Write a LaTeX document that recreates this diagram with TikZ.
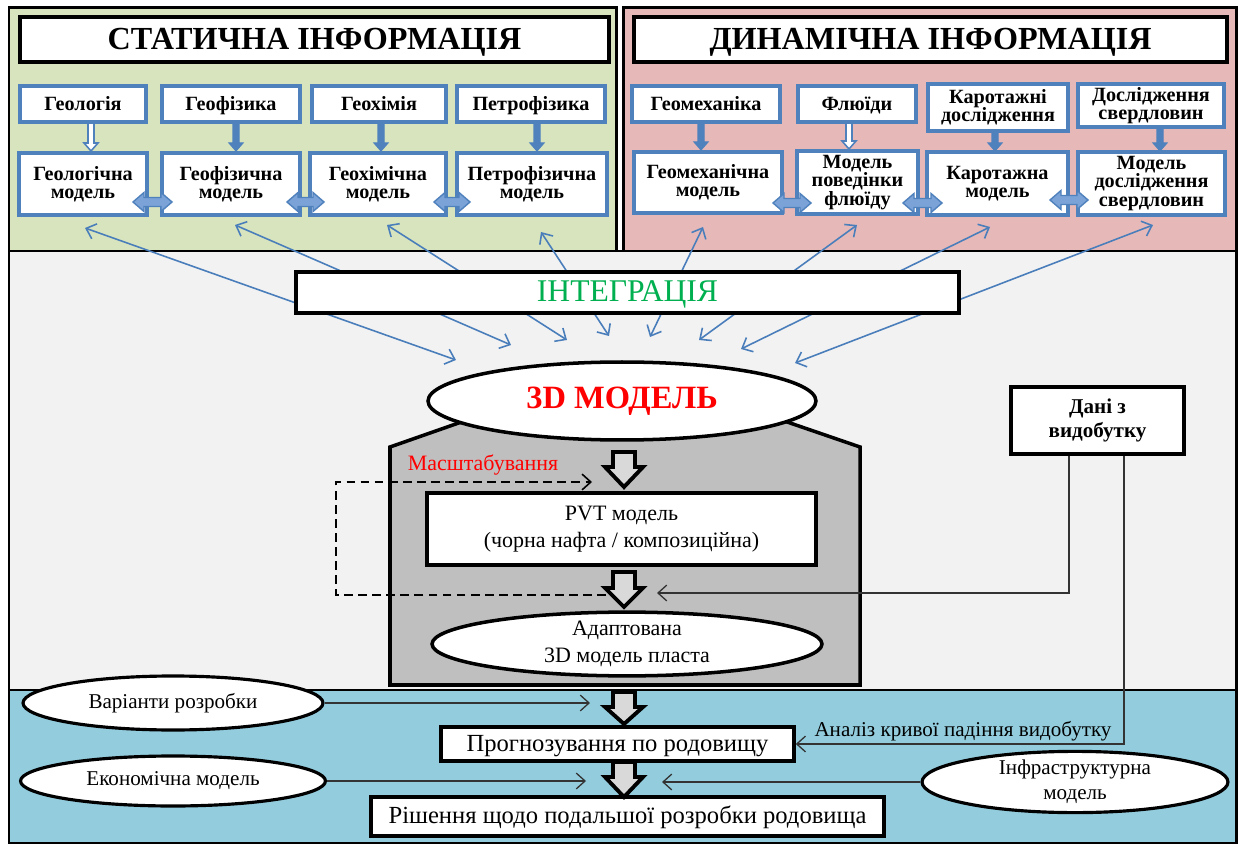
\documentclass[tikz,border=0pt]{standalone}
\usepackage{fontspec}
\setmainfont{Liberation Serif}
\usetikzlibrary{arrows.meta,shapes.geometric}
\definecolor{pgreen}{HTML}{D7E4BD}
\definecolor{pred}{HTML}{E6B9B8}
\definecolor{pgrey}{HTML}{F2F2F2}
\definecolor{pblue}{HTML}{93CDDD}
\definecolor{hgrey}{HTML}{BFBFBF}
\definecolor{agrey}{HTML}{D9D9D9}
\definecolor{bdblue}{HTML}{4F81BD}
\definecolor{lblue}{HTML}{4A7EBB}
\definecolor{dfill}{HTML}{7BA3D8}
\definecolor{tgreen}{HTML}{00B050}
\definecolor{tred}{HTML}{FF0000}
\newcommand\mkbox[7][]{\node[inner sep=0pt, minimum width={(#5-#3)*0.02cm}, minimum height={(#6-#4)*0.02cm}, #1] (#2) at ({(#3+#5)/2},{(#4+#6)/2}) {#7};}
\newcommand\blkarrow[4]{\draw[blockarr] (#1-11,#2) -- (#1+11,#2) -- (#1+11,#3) -- (#1+19,#3) -- (#1,#4) -- (#1-19,#3) -- (#1-11,#3) -- cycle;}
\newcommand\vdarrow[4]{\draw[#4] (#1-3,#2) -- (#1+3,#2) -- (#1+3,#3-8) -- (#1+7,#3-8) -- (#1,#3) -- (#1-7,#3-8) -- (#1-3,#3-8) -- cycle;}
\newcommand\hdarrow[3]{\draw[dblarr] (#1,#3) -- (#1+11,#3-9.5) -- (#1+11,#3-4.5) -- (#2-11,#3-4.5) -- (#2-11,#3-9.5) -- (#2,#3) -- (#2-11,#3+9.5) -- (#2-11,#3+4.5) -- (#1+11,#3+4.5) -- (#1+11,#3+9.5) -- cycle;}
\tikzset{
  panel/.style={draw=black, line width=1.7pt},
  titlebox/.style={text height=13.7pt, text depth=2.7pt, draw=black, fill=white, line width=2.3pt, font=\fontsize{18.3}{20}\selectfont\bfseries},
  sbox/.style={draw=bdblue, fill=white, line width=1.9pt, align=center, font=\fontsize{11.5}{10.5}\selectfont\bfseries},
  sone/.style={text height=8.6pt, text depth=1.7pt},
  mbox/.style={draw=bdblue, fill=white, line width=1.9pt, align=center, font=\fontsize{11.5}{10.5}\selectfont\bfseries},
  vfill/.style={fill=bdblue, draw=bdblue, line width=0.6pt},
  vhollow/.style={fill=white, draw=bdblue, line width=0.9pt},
  dblarr/.style={fill=dfill, draw=bdblue, line width=0.8pt},
  intarr/.style={draw=lblue, line width=0.9pt, {Straight Barb[length=5pt,width=9pt]}-{Straight Barb[length=5pt,width=9pt]}},
  intbox/.style={text height=13pt, text depth=3pt, draw=black, fill=white, line width=2.3pt, text=tgreen, font=\fontsize{18}{20}\selectfont},
  house/.style={draw=black, fill=hgrey, line width=2pt},
  ell3d/.style={ellipse, draw=black, fill=white, line width=2pt, inner sep=0pt, minimum width=7.76cm, minimum height=1.56cm, text=tred, font=\fontsize{18.5}{20}\selectfont\bfseries},
  blockarr/.style={draw=black, fill=agrey, line width=2.2pt, line join=miter},
  pvtbox/.style={draw=black, fill=white, line width=2pt, align=center, font=\fontsize{12.5}{15}\selectfont},
  ellad/.style={ellipse, draw=black, fill=white, line width=2pt, inner sep=0pt, minimum width=7.8cm, minimum height=1.24cm, align=center, font=\fontsize{12.5}{15}\selectfont},
  ellw/.style={ellipse, draw=black, fill=white, line width=1.8pt, inner sep=0pt, align=center, font=\fontsize{12}{14}\selectfont},
  bbox/.style={text height=10.5pt, text depth=2.1pt, draw=black, fill=white, line width=2pt, font=\fontsize{14}{16}\selectfont},
  danibox/.style={draw=black, fill=white, line width=2.2pt, align=center, font=\fontsize{12}{14}\selectfont\bfseries},
  thinarr/.style={draw=black!80, line width=0.75pt, -{Straight Barb[length=5pt,width=9pt]}},
  dsharr/.style={draw=black, line width=0.9pt, dash pattern=on 5pt off 3pt, -{Straight Barb[length=5pt,width=9pt]}},
  lbl/.style={font=\fontsize{12}{14}\selectfont, inner sep=0pt},
}
\begin{document}
\begin{tikzpicture}[x=0.02cm, y=-0.02cm]
\useasboundingbox (0,0) rectangle (1240,847);
\fill[white] (0,0) rectangle (1240,847);
% panels
\draw[panel, fill=pgreen] (9,8) rectangle (616,251);
\draw[panel, fill=pred] (623,8) rectangle (1236,251);
\draw[panel, fill=pgrey] (9,251) rectangle (1236,690);
\draw[panel, fill=pblue] (9,690) rectangle (1236,843);
% static
\mkbox[titlebox]{stitle}{20}{17}{609}{62}{СТАТИЧНА ІНФОРМАЦІЯ}
\mkbox[sbox, sone]{s1}{20}{86}{146}{122}{Геологія}
\mkbox[sbox, sone]{s2}{162}{86}{300}{122}{Геофізика}
\mkbox[sbox, sone]{s3}{312}{86}{446}{122}{Геохімія}
\mkbox[sbox, sone]{s4}{457}{86}{605}{122}{Петрофізика}
\mkbox[mbox]{sm1}{19}{153}{147}{215}{Геологічна\\модель}
\mkbox[mbox]{sm2}{162}{153}{300}{215}{Геофізична\\модель}
\mkbox[mbox]{sm3}{310}{153}{446}{215}{Геохімічна\\модель}
\mkbox[mbox]{sm4}{457}{153}{607}{215}{Петрофізична\\модель}
\vdarrow{91}{123}{151}{vhollow}
\vdarrow{236}{123}{151}{vfill}
\vdarrow{381}{123}{151}{vfill}
\vdarrow{537}{123}{151}{vfill}
\hdarrow{133}{172}{202}
\hdarrow{287}{324}{202}
\hdarrow{434}{470}{202}
% dynamic
\mkbox[titlebox]{dtitle}{634}{17}{1227}{62}{ДИНАМІЧНА ІНФОРМАЦІЯ}
\mkbox[sbox, sone]{d1}{632}{86}{780}{122}{Геомеханіка}
\mkbox[sbox, sone]{d2}{798}{86}{916}{122}{Флюїди}
\mkbox[sbox]{d3}{928}{84}{1068}{131}{Каротажні\\дослідження}
\mkbox[sbox]{d4}{1078}{84}{1224}{127}{Дослідження\\свердловин}
\mkbox[mbox]{dm1}{634}{152}{782}{213}{Геомеханічна\\модель}
\mkbox[mbox]{dm2}{797}{151}{918}{214}{Модель\\поведінки\\флюїду}
\mkbox[mbox]{dm3}{927}{152}{1068}{215}{Каротажна\\модель}
\mkbox[mbox]{dm4}{1078}{152}{1225}{215}{Модель\\дослідження\\свердловин}
\vdarrow{701}{123}{150}{vfill}
\vdarrow{849}{123}{149}{vhollow}
\vdarrow{995}{132}{151}{vfill}
\vdarrow{1160}{128}{151}{vfill}
\hdarrow{773}{811}{203}
\hdarrow{903}{942}{203}
\hdarrow{1050}{1088}{200}
% integration arrows
\coordinate (t1) at (85,228);   \coordinate (b1) at (456,360);
\coordinate (t2) at (235,225);  \coordinate (b2) at (511,345);
\coordinate (t3) at (387,225);  \coordinate (b3) at (567,340);
\coordinate (t4) at (541,232);  \coordinate (b4) at (609,336);
\coordinate (t5) at (703,227);  \coordinate (b5) at (650,337);
\coordinate (t6) at (857,225);  \coordinate (b6) at (699,340);
\coordinate (t7) at (990,227);  \coordinate (b7) at (741,349);
\coordinate (t8) at (1153,225); \coordinate (b8) at (795,363);
\foreach \i in {1,...,8} {\draw[intarr] (t\i) -- (b\i);}
\mkbox[intbox]{integ}{296}{272}{959}{313}{ІНТЕГРАЦІЯ}
% 3D model block
\draw[house] (390,685) -- (390,447) -- (490,412) -- (758,412) -- (860,447) -- (860,685) -- cycle;
\node[ell3d] (m3d) at (622,401) {3D МОДЕЛЬ};
\blkarrow{624}{452}{467}{487}
\mkbox[pvtbox]{pvt}{427}{493}{816}{565}{PVT модель\\(чорна нафта / композиційна)}
\blkarrow{624}{572}{588}{607}
\node[ellad] (adapt) at (627,644) {Адаптована\\3D модель пласта};
\node[lbl, text=tred, font=\fontsize{12.5}{15}\selectfont] (scal) at (483,465) {Масштабування};
\coordinate (dsS) at (606,595);
\coordinate (dsE) at (592,482);
\draw[dsharr] (dsS) -- ++(-270,0) |- (dsE);
% production data
\mkbox[danibox]{dani}{1011}{387}{1184}{454}{Дані з\\видобутку}
\coordinate (pvtin) at (657,593);
\draw[thinarr] ([xshift=-0.57cm]dani.south) |- (pvtin);
% bottom
\mkbox[bbox]{prog}{441}{727}{794}{761}{Прогнозування по родовищу}
\mkbox[bbox]{dec}{371}{797}{884}{836}{Рішення щодо подальшої розробки родовища}
\draw[thinarr] ([xshift=0.53cm]dani.south) |- (prog.east);
\node[lbl] (decl) at (963,731) {Аналіз кривої падіння видобутку};
\node[ellw, minimum width=6cm, minimum height=1.08cm] (var) at (173,703) {Варіанти розробки};
\node[ellw, minimum width=6.1cm, minimum height=1.0cm] (eco) at (173,781) {Економічна модель};
\node[ellw, minimum width=6.12cm, minimum height=1.1cm] (infra) at (1075,782) {Інфраструктурна\\модель};
\blkarrow{624}{692}{707}{724}
\blkarrow{624}{762}{777}{797}
\coordinate (varend) at (590,703);
\coordinate (ecoend) at (586,781);
\coordinate (infend) at (662,782);
\draw[thinarr] (var.east) -- (varend);
\draw[thinarr] (eco.east) -- (ecoend);
\draw[thinarr] (infra.west) -- (infend);
\end{tikzpicture}
\end{document}
